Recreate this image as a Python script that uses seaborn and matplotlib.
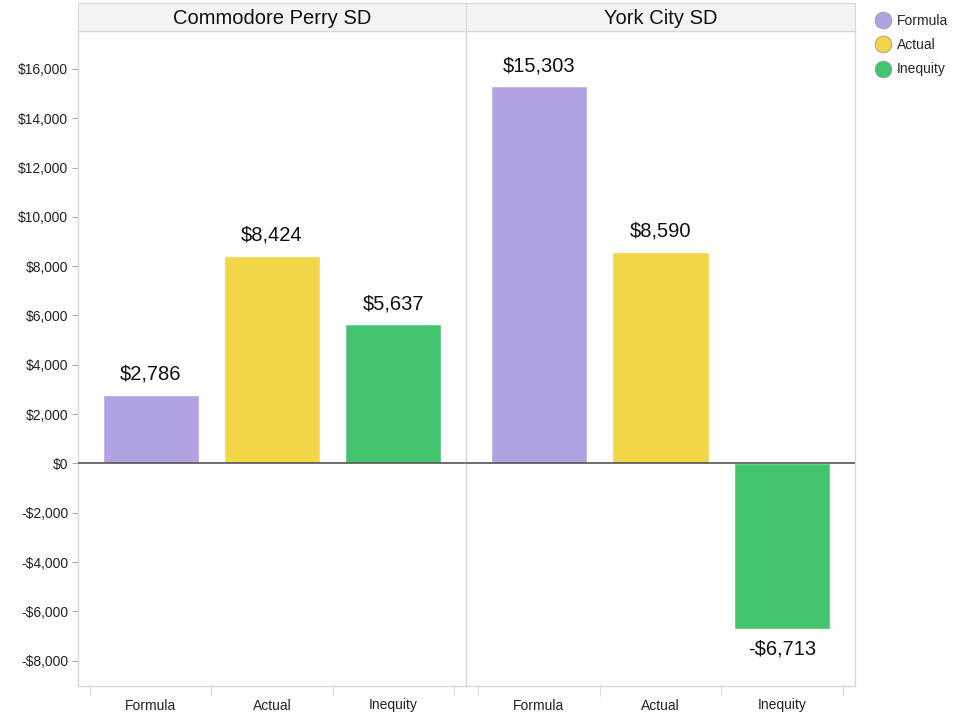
import numpy as np
import pandas as pd
import matplotlib.pyplot as plt
import seaborn as sns
from matplotlib.lines import Line2D
from matplotlib.ticker import FuncFormatter, FixedLocator

# data
categories = ['Formula', 'Actual', 'Inequity']
districts = ['Commodore Perry SD', 'York City SD']
commodore_perry = [2786, 8424, 5637]
york_city = [15303, 8590, -6713]
colors = {'Formula': '#b2a2e3', 'Actual': '#f3d647', 'Inequity': '#43c56f'}

sns.set_style('white')
plt.rcParams['font.family'] = ['Liberation Sans', 'DejaVu Sans']

def money(v, pos=None):
    v = int(round(v))
    return ('-' if v < 0 else '') + '${:,}'.format(abs(v))

W, H = 971, 713
fig = plt.figure(figsize=(W / 100, H / 100), dpi=100)

panels = [(78, 466), (466, 855)]
top, bottom = 31, 686
grid = '#d9d9d9'

for i, (name, vals) in enumerate(zip(districts, [commodore_perry, york_city])):
    x0, x1 = panels[i]
    ax = fig.add_axes([x0 / W, (H - bottom) / H, (x1 - x0) / W, (bottom - top) / H])
    df = pd.DataFrame({'Measure': categories, 'Value': vals})
    sns.barplot(data=df, x='Measure', y='Value', hue='Measure', palette=colors,
                order=categories, hue_order=categories, width=0.79,
                legend=False, ax=ax, saturation=1)
    ax.set_xlim(-0.6, 2.6)
    ax.set_ylim(-9030, 17540)
    ax.axhline(0, color='#555555', lw=1.2, zorder=5)
    for c in ax.containers:
        ax.bar_label(c, fmt=money, padding=8, fontsize=14.5, color='#111111')
    ax.set_xlabel('')
    ax.set_ylabel('')
    for s in ax.spines.values():
        s.set_color(grid)
        s.set_linewidth(1)
    ax.xaxis.set_minor_locator(FixedLocator([-0.5, 0.5, 1.5, 2.5]))
    ax.tick_params(axis='x', which='major', length=0, pad=9, labelsize=10, labelcolor='#222222')
    ax.tick_params(axis='x', which='minor', bottom=True, length=7, color=grid, direction='out')
    if i == 0:
        ax.yaxis.set_major_locator(FixedLocator(np.arange(-8000, 16001, 2000)))
        ax.yaxis.set_major_formatter(FuncFormatter(money))
        ax.tick_params(axis='y', left=True, length=4, color='#aaaaaa', labelsize=10,
                       labelcolor='#222222', pad=3)
    else:
        ax.set_yticks([])

    # header band
    hx = fig.add_axes([x0 / W, (H - top) / H, (x1 - x0) / W, 28 / H])
    hx.set_facecolor('#f4f4f4')
    hx.set_xticks([])
    hx.set_yticks([])
    for s in hx.spines.values():
        s.set_color(grid)
    hx.text(0.5, 0.45, name, ha='center', va='center', fontsize=14.5, color='#111111',
            transform=hx.transAxes)

handles = [Line2D([], [], marker='o', ls='', markersize=12, markerfacecolor=colors[c],
                  markeredgecolor='#999999', markeredgewidth=0.6, label=c) for c in categories]
fig.legend(handles=handles, loc='upper left', bbox_to_anchor=(869 / W, 1 - 8 / H),
           frameon=False, fontsize=10, handletextpad=0.4, labelspacing=0.75,
           borderaxespad=0, handlelength=1.2)

fig.savefig('out.png', dpi=100)
